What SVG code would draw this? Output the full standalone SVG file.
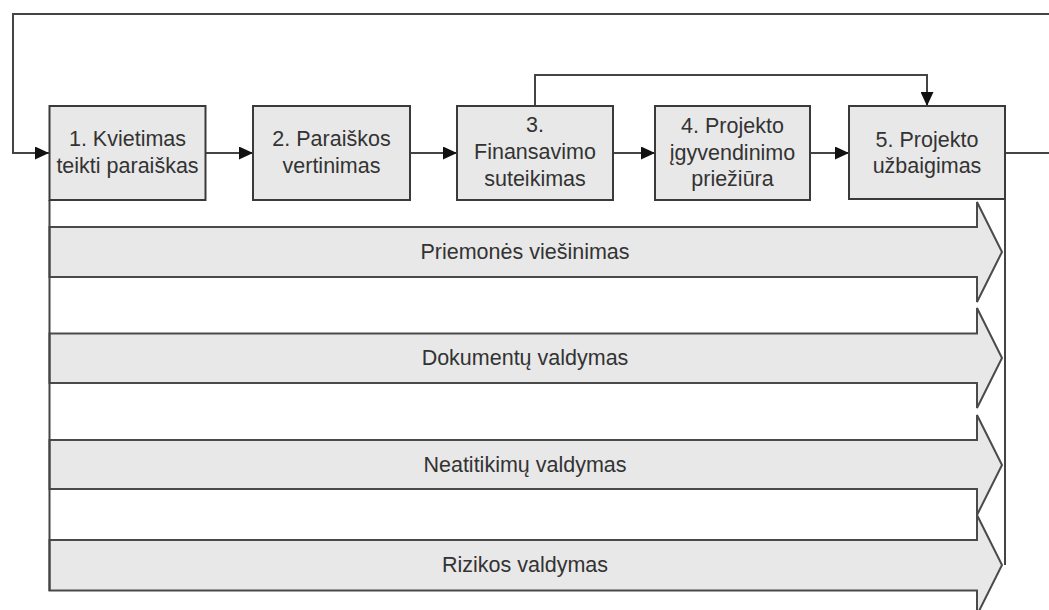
<svg xmlns="http://www.w3.org/2000/svg" width="1049" height="610" viewBox="0 0 1049 610">
<style>
.box{fill:#e8e8e8;stroke:#3a3a3a;stroke-width:2}
.band{fill:#e8e8e8;stroke:#4a4a4a;stroke-width:2;stroke-linejoin:miter}
.ln{fill:none;stroke:#444;stroke-width:2}
.t{font-family:"Liberation Sans",Arial,sans-serif;font-size:21.5px;fill:#333;text-anchor:middle}
</style>
<defs>
<marker id="ah" viewBox="0 0 14 13" refX="14" refY="6.5" markerWidth="14" markerHeight="13" markerUnits="userSpaceOnUse" orient="auto">
<path d="M0,0 L14,6.5 L0,13 Z" fill="#111"/>
</marker>
</defs>
<rect width="1049" height="610" fill="#fff"/>
<g id="bands">
<g id="band1">
<path class="band" d="M49.5,227 H977 V202 L1002,252 L977,302 V277 H49.5 Z"/>
<text class="t" x="525" y="259">Priemonės viešinimas</text>
</g>
<g id="band2">
<path class="band" d="M49.5,333.5 H977 V308 L1002,358 L977,408 V383 H49.5 Z"/>
<text class="t" x="525" y="365">Dokumentų valdymas</text>
</g>
<g id="band3">
<path class="band" d="M49.5,440 H977 V415 L1002,465 L977,515 V489 H49.5 Z"/>
<text class="t" x="525" y="472">Neatitikimų valdymas</text>
</g>
<g id="band4">
<path class="band" d="M49.5,540 H977 V515 L1002,565 L977,615 V590.5 H49.5 Z"/>
<text class="t" x="525" y="572">Rizikos valdymas</text>
</g>
</g>
<g id="connectors">
<path class="ln" d="M49.5,200 V591"/>
<path class="ln" d="M1005,199 V565"/>
<path class="ln" d="M1005,153 H1052 V14 H13 V153 H49" marker-end="url(#ah)"/>
<path class="ln" d="M206,153 H253" marker-end="url(#ah)"/>
<path class="ln" d="M410,153 H457" marker-end="url(#ah)"/>
<path class="ln" d="M613,153 H655" marker-end="url(#ah)"/>
<path class="ln" d="M810,153 H849" marker-end="url(#ah)"/>
<path class="ln" d="M535,106 V75 H927 V106" marker-end="url(#ah)"/>
</g>
<g id="node1">
<rect class="box" x="49.5" y="106" width="156" height="94"/>
<text class="t" x="127.5" y="146">1. Kvietimas</text>
<text class="t" x="127.5" y="173">teikti paraiškas</text>
</g>
<g id="node2">
<rect class="box" x="253" y="106" width="157" height="94"/>
<text class="t" x="331.5" y="146">2. Paraiškos</text>
<text class="t" x="331.5" y="173">vertinimas</text>
</g>
<g id="node3">
<rect class="box" x="457" y="106" width="156" height="94"/>
<text class="t" x="535" y="132">3.</text>
<text class="t" x="535" y="159">Finansavimo</text>
<text class="t" x="535" y="186">suteikimas</text>
</g>
<g id="node4">
<rect class="box" x="655" y="106" width="155" height="94"/>
<text class="t" x="732.5" y="133">4. Projekto</text>
<text class="t" x="732.5" y="160">įgyvendinimo</text>
<text class="t" x="732.5" y="186">priežiūra</text>
</g>
<g id="node5">
<rect class="box" x="849" y="106" width="156" height="93"/>
<text class="t" x="927" y="147">5. Projekto</text>
<text class="t" x="927" y="173">užbaigimas</text>
</g>
</svg>
